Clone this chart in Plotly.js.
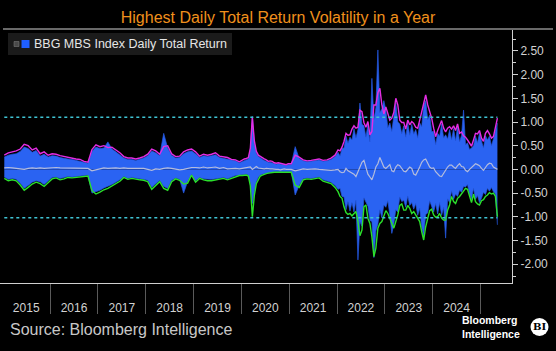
<!DOCTYPE html>
<html><head><meta charset="utf-8">
<script src="https://cdn.plot.ly/plotly-3.0.1.min.js"></script>
<style>html,body{margin:0;padding:0;background:#000;}#chart{width:556px;height:351px;}</style>
</head><body><div id="chart"></div>
<script>
// ---------- data ----------
const years = [2015,2016,2017,2018,2019,2020,2021,2022,2023,2024,2025];
const periodsPerYear = [12,12,12,12,12,24,12,24,24,24,24];
const yearLabels = ['2015','2016','2017','2018','2019','2020','2021','2022','2023','2024'];
const yTickValues = [-2,-1.5,-1,-0.5,0,0.5,1,1.5,2,2.5];
const yTickLabels = ['-2.00','-1.50','-1.00','-0.50','0.00','0.50','1.00','1.50','2.00','2.50'];
const thresholdHigh = 1.10;
const thresholdLow = -1.02;

// upper volatility band (magenta)
const upperBand = [
 [0.30,0.35,0.37,0.39,0.43,0.53,0.50,0.41,0.45,0.33,0.37,0.30],
 [0.33,0.32,0.29,0.27,0.25,0.24,0.22,0.21,0.17,0.15,0.42,0.52],
 [0.48,0.50,0.46,0.47,0.41,0.35,0.27,0.24,0.24,0.22,0.24,0.27],
 [0.32,0.43,0.39,0.32,0.48,0.50,0.33,0.27,0.28,0.37,0.41,0.43],
 [0.37,0.28,0.32,0.30,0.32,0.35,0.28,0.26,0.25,0.21,0.20,0.16],
 [0.20,0.22,0.23,0.25,0.45,1.10,0.60,0.38,0.30,0.27,0.24,0.22,0.20,0.17,0.18,0.17,0.14,0.13,0.14,0.13,0.12,0.10,0.10,0.12],
 [0.12,0.30,0.26,0.20,0.18,0.19,0.21,0.22,0.19,0.20,0.24,0.30],
 [0.41,0.39,0.47,0.59,0.76,0.72,0.73,0.85,0.92,0.87,0.89,1.25,1.22,0.99,0.89,1.01,0.73,0.80,1.36,1.36,1.62,1.71,1.36,1.17],
 [1.32,1.17,1.04,1.08,1.20,1.50,1.36,1.04,0.99,0.99,0.85,1.04,0.94,1.01,0.97,0.89,0.87,1.04,1.22,1.43,1.57,1.36,1.24,1.08],
 [0.87,0.69,0.82,0.95,1.03,0.87,0.79,0.87,0.90,0.85,0.92,0.82,0.96,0.76,0.79,0.71,0.68,0.62,0.55,0.49,0.62,0.76,0.75,0.82],
 [0.66,0.59,0.76,0.82,0.75,0.66,0.69,0.90,1.08]
];
// lower volatility band (green)
const lowerBand = [
 [-0.19,-0.24,-0.22,-0.24,-0.33,-0.44,-0.38,-0.31,-0.27,-0.30,-0.36,-0.28],
 [-0.20,-0.18,-0.22,-0.20,-0.17,-0.18,-0.17,-0.16,-0.15,-0.14,-0.45,-0.52],
 [-0.48,-0.43,-0.40,-0.35,-0.30,-0.25,-0.17,-0.21,-0.19,-0.21,-0.22,-0.23],
 [-0.26,-0.42,-0.33,-0.26,-0.40,-0.44,-0.26,-0.20,-0.23,-0.31,-0.29,-0.12],
 [-0.27,-0.19,-0.22,-0.24,-0.24,-0.22,-0.21,-0.19,-0.22,-0.19,-0.15,-0.13],
 [-0.13,-0.13,-0.12,-0.14,-0.35,-1.00,-0.55,-0.30,-0.20,-0.14,-0.12,-0.10,-0.09,-0.08,-0.07,-0.07,-0.06,-0.06,-0.06,-0.05,-0.05,-0.05,-0.05,-0.06],
 [-0.06,-0.33,-0.38,-0.22,-0.20,-0.21,-0.19,-0.18,-0.25,-0.28,-0.30,-0.38],
 [-0.47,-0.57,-0.61,-0.79,-0.91,-0.95,-0.93,-0.98,-0.94,-0.89,-1.10,-1.40,-1.28,-0.79,-0.75,-1.03,-1.14,-1.42,-1.84,-1.66,-1.24,-1.14,-1.10,-0.96],
 [-0.87,-0.93,-1.03,-1.12,-1.24,-1.10,-0.96,-0.76,-0.73,-0.86,-0.86,-0.76,-0.82,-0.93,-0.89,-0.96,-1.03,-1.10,-1.31,-1.49,-1.21,-1.00,-0.87,-0.84],
 [-0.96,-1.01,-1.00,-0.93,-1.03,-1.07,-1.07,-0.86,-0.75,-0.57,-0.68,-0.72,-0.61,-0.57,-0.52,-0.47,-0.40,-0.42,-0.57,-0.70,-0.52,-0.68,-0.73,-0.75],
 [-0.66,-0.64,-0.57,-0.54,-0.49,-0.52,-0.50,-0.57,-1.00]
];
// average daily return (grey)
const meanReturn = [
 [0.03,0.04,0.03,0.02,0.01,0.00,0.02,0.03,0.02,0.03,0.02,0.03],
 [0.03,0.04,0.03,0.03,0.02,0.03,0.03,0.02,0.02,0.02,-0.03,-0.01],
 [0.02,0.03,0.02,0.03,0.03,0.02,0.03,0.02,0.02,0.02,0.01,0.02],
 [0.00,-0.02,0.01,0.00,0.02,0.03,0.02,0.01,-0.01,0.00,0.02,0.04],
 [0.04,0.03,0.05,0.03,0.04,0.05,0.02,0.04,0.01,0.02,0.02,0.01],
 [0.02,0.03,0.04,0.05,0.05,0.00,0.04,0.06,0.03,0.02,0.02,0.01,0.02,0.01,0.01,0.01,0.00,0.00,0.00,-0.01,0.00,0.01,0.00,0.00],
 [0.00,-0.03,-0.01,0.01,0.00,0.01,0.01,0.00,-0.01,-0.01,-0.02,-0.01],
 [0.00,-0.05,-0.07,-0.06,0.02,-0.03,-0.05,-0.08,-0.10,-0.15,-0.05,0.03,0.15,0.19,0.02,-0.10,-0.16,-0.22,-0.10,0.05,0.12,0.25,0.15,0.05],
 [0.02,0.06,0.10,-0.03,-0.05,0.05,0.10,0.08,0.02,-0.04,-0.05,0.00,0.05,0.02,-0.10,-0.12,-0.05,0.05,0.15,0.20,0.22,0.12,0.05,0.02],
 [0.03,-0.05,-0.10,-0.14,-0.15,-0.08,0.00,0.05,0.09,0.09,0.05,0.02,0.08,0.12,0.06,0.05,-0.02,-0.05,0.00,0.04,0.08,0.12,0.10,0.08],
 [0.02,-0.02,0.04,0.10,0.13,0.12,0.05,0.03,0.00]
];
// BBG MBS Index daily total return: highest and lowest day in each period
const returnHigh = [
 [0.26,0.30,0.32,0.33,0.38,0.47,0.44,0.36,0.40,0.28,0.32,0.26],
 [0.29,0.28,0.25,0.23,0.22,0.21,0.19,0.18,0.15,0.13,0.38,0.47],
 [0.44,0.45,0.58,0.43,0.37,0.31,0.24,0.21,0.21,0.19,0.21,0.24],
 [0.29,0.39,0.35,0.29,0.76,0.45,0.30,0.24,0.25,0.33,0.37,0.39],
 [0.33,0.25,0.29,0.27,0.29,0.31,0.25,0.23,0.22,0.19,0.18,0.14],
 [0.17,0.19,0.20,0.22,0.42,1.12,0.55,0.34,0.27,0.24,0.21,0.19,0.17,0.15,0.15,0.14,0.12,0.11,0.12,0.11,0.10,0.09,0.09,0.10],
 [0.10,0.48,0.23,0.18,0.16,0.17,0.19,0.20,0.17,0.18,0.21,0.27],
 [0.36,0.28,0.44,0.45,0.70,0.55,0.68,0.62,0.86,0.66,0.84,1.40,0.95,0.92,0.68,0.95,0.58,1.92,1.05,1.30,2.52,1.20,1.28,1.45],
 [1.25,0.88,0.98,0.80,1.12,1.40,1.00,0.96,0.75,0.92,0.68,0.98,0.72,0.95,0.74,0.84,0.66,0.98,0.90,1.35,1.45,1.05,1.15,0.80],
 [0.80,0.52,0.76,0.70,0.96,0.66,0.73,0.64,0.84,0.62,0.86,0.60,0.90,0.58,0.72,1.25,0.52,0.56,0.42,0.45,0.50,0.70,0.56,0.76],
 [0.60,0.45,0.71,0.62,0.70,0.50,0.64,0.84,0.98]
];
const returnLow = [
 [-0.16,-0.21,-0.19,-0.21,-0.29,-0.40,-0.34,-0.27,-0.24,-0.26,-0.32,-0.24],
 [-0.17,-0.16,-0.19,-0.17,-0.15,-0.16,-0.15,-0.14,-0.13,-0.12,-0.50,-0.47],
 [-0.44,-0.39,-0.36,-0.32,-0.27,-0.22,-0.15,-0.19,-0.17,-0.19,-0.20,-0.21],
 [-0.23,-0.38,-0.30,-0.23,-0.36,-0.40,-0.23,-0.18,-0.21,-0.50,-0.26,-0.11],
 [-0.24,-0.17,-0.20,-0.21,-0.21,-0.20,-0.19,-0.17,-0.20,-0.17,-0.13,-0.12],
 [-0.11,-0.11,-0.10,-0.12,-0.30,-0.72,-0.48,-0.26,-0.17,-0.12,-0.10,-0.09,-0.08,-0.07,-0.06,-0.06,-0.05,-0.05,-0.05,-0.04,-0.04,-0.04,-0.04,-0.05],
 [-0.05,-0.54,-0.34,-0.20,-0.18,-0.19,-0.17,-0.16,-0.22,-0.25,-0.27,-0.34],
 [-0.42,-0.40,-0.57,-0.58,-0.85,-0.68,-0.88,-0.70,-0.90,-0.65,-1.91,-1.10,-1.20,-0.60,-0.70,-0.78,-1.08,-1.10,-1.86,-1.30,-1.15,-0.85,-1.02,-0.75],
 [-0.80,-0.66,-0.97,-1.35,-1.15,-0.85,-0.90,-0.58,-0.68,-0.65,-0.80,-0.56,-0.76,-0.70,-0.84,-0.72,-0.97,-0.82,-1.22,-1.40,-0.95,-0.92,-0.66,-0.78],
 [-0.90,-0.72,-0.94,-0.70,-0.97,-0.80,-1.45,-0.62,-0.70,-0.45,-0.63,-0.52,-0.57,-0.44,-0.48,-0.36,-0.37,-0.32,-0.53,-0.62,-0.40,-0.63,-0.55,-0.70],
 [-0.61,-0.48,-0.53,-0.40,-0.46,-0.38,-0.47,-0.52,-1.17]
];

// ---------- helpers ----------
function timeOf(series){
  const t=[];
  series.forEach((vals,k)=>vals.forEach((v,i)=>t.push(years[k]+(i+0.5)/periodsPerYear[k])));
  return t;
}
function flat(series){ return [].concat(...series); }

const T = timeOf(upperBand);
const tFirst = T[0], tLast = T[T.length-1];

// pixel -> paper helpers for decorations (plot area: x 0..512, y 30..283)
const PX = p => p/512;
const PY = p => (283-p)/253;

const FONT = 'Liberation Sans, Arial, sans-serif';
const BLUE = '#2a63f2';

const traces = [
  {x:timeOf(returnHigh), y:flat(returnHigh), type:'scatter', mode:'lines', fill:'tozeroy',
   line:{color:'#2458e0',width:0.7}, fillcolor:BLUE, hoverinfo:'skip', name:'BBG MBS Index Daily Total Return'},
  {x:timeOf(returnLow), y:flat(returnLow), type:'scatter', mode:'lines', fill:'tozeroy',
   line:{color:'#2458e0',width:0.7}, fillcolor:BLUE, hoverinfo:'skip'},
  {x:timeOf(meanReturn), y:flat(meanReturn), type:'scatter', mode:'lines',
   line:{color:'#b4bcdc',width:1.2}},
  {x:T, y:flat(upperBand), type:'scatter', mode:'lines', line:{color:'#e42de4',width:1.4}},
  {x:timeOf(lowerBand), y:flat(lowerBand), type:'scatter', mode:'lines', line:{color:'#2be02b',width:1.4}},
  {x:[tFirst,tLast], y:[thresholdHigh,thresholdHigh], xaxis:'x2', type:'scatter', mode:'lines',
   line:{color:'#3fc4d4',width:1.4,dash:'dot'}},
  {x:[tFirst,tLast], y:[thresholdLow,thresholdLow], xaxis:'x2', type:'scatter', mode:'lines',
   line:{color:'#3fc4d4',width:1.4,dash:'dot'}}
];

const xRange = [2014.952, 2025.659];
const layout = {
  width:556, height:351,
  margin:{l:0,r:44,t:30,b:68},
  paper_bgcolor:'#000', plot_bgcolor:'#000',
  showlegend:false,
  title:{text:'Highest Daily Total Return Volatility in a Year', font:{family:FONT,size:16,color:'#f0901c'},
         xref:'container', x:0.5, xanchor:'center', yref:'container', y:1-17/351, yanchor:'middle'},
  xaxis:{range:xRange, showgrid:false, zeroline:false, showline:true, linecolor:'#cfcfcf', linewidth:1,
         tickmode:'array', tickvals:yearLabels.map(s=>+s+0.5), ticktext:yearLabels,
         ticks:'outside', ticklen:14, tickcolor:'rgba(0,0,0,0)',
         tickfont:{family:FONT,size:12,color:'#d2d2d2'}},
  xaxis2:{range:xRange, overlaying:'x', anchor:'y', side:'bottom', showgrid:false, zeroline:false,
          tickmode:'array', tickvals:years.slice(1), showticklabels:false,
          ticks:'outside', ticklen:30, tickcolor:'#5a5a5a', tickwidth:1},
  yaxis:{range:[-2.397,2.941], side:'right', showgrid:false, zeroline:false, showline:true,
         linecolor:'#cfcfcf', linewidth:1, tickmode:'array', tickvals:yTickValues, ticktext:yTickLabels,
         ticks:'outside', ticklen:5, tickcolor:'#cfcfcf',
         minor:{tickmode:'linear', tick0:0, dtick:0.25, ticks:'outside', ticklen:3, tickcolor:'#cfcfcf'},
         tickfont:{family:FONT,size:12,color:'#d2d2d2'}},
  shapes:[
    {type:'line', xref:'paper', yref:'paper', x0:PX(3), x1:PX(553), y0:PY(29), y1:PY(29), line:{color:'#8c8c8c',width:1.5}},
    {type:'rect', xref:'paper', yref:'paper', x0:PX(8), x1:PX(232), y0:PY(55), y1:PY(33), fillcolor:'#1b1b1b', line:{width:0}, layer:'below'},
    {type:'rect', xref:'paper', yref:'paper', x0:PX(14), x1:PX(19), y0:PY(46.5), y1:PY(41.5), fillcolor:'#4a4a4a', line:{color:'#777',width:0.6}},
    {type:'rect', xref:'paper', yref:'paper', x0:PX(21.5), x1:PX(29.5), y0:PY(48), y1:PY(40), fillcolor:'#1f5fff', line:{width:0}},
    {type:'circle', xref:'paper', yref:'paper', x0:PX(530.5), x1:PX(548.5), y0:PY(336), y1:PY(318), fillcolor:'#ffffff', line:{width:0}}
  ],
  annotations:[
    {text:'BBG MBS Index Daily Total Return', xref:'paper', yref:'paper', x:PX(32), y:PY(44), xanchor:'left', yanchor:'middle',
     showarrow:false, font:{family:FONT,size:12.5,color:'#e6e6e6'}},
    {text:'Source: Bloomberg Intelligence', xref:'paper', yref:'paper', x:PX(8), y:PY(329), xanchor:'left', yanchor:'middle',
     showarrow:false, font:{family:FONT,size:16,color:'#c8c8c8'}},
    {text:'<b>Bloomberg</b><br><b>Intelligence</b>', xref:'paper', yref:'paper', x:PX(522), y:PY(327), xanchor:'right', yanchor:'middle',
     align:'left', showarrow:false, font:{family:FONT,size:10.5,color:'#ffffff'}},
    {text:'<b>BI</b>', xref:'paper', yref:'paper', x:PX(539.5), y:PY(327), xanchor:'center', yanchor:'middle',
     showarrow:false, font:{family:'DejaVu Serif, serif',size:10,color:'#000000'}}
  ]
};

Plotly.newPlot('chart', traces, layout, {displayModeBar:false, staticPlot:true});
</script>
</body></html>
